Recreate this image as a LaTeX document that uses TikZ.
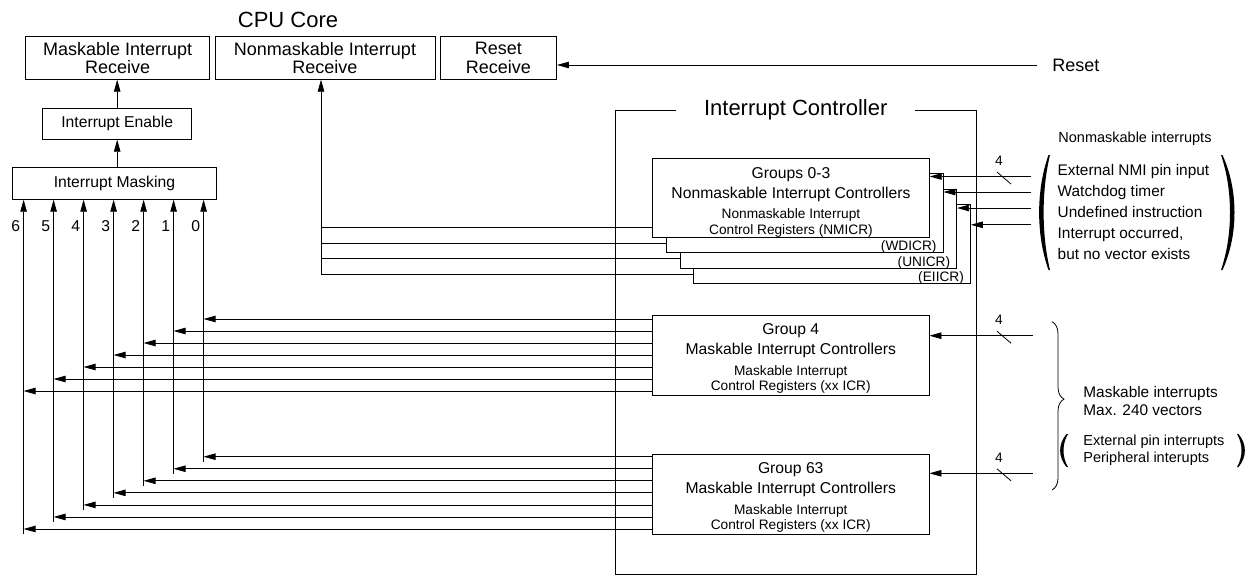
\documentclass[tikz,border=0pt]{standalone}
\usepackage{fontspec}
\setmainfont{Liberation Sans}
\usepackage{tikz}
\usetikzlibrary{positioning,arrows.meta,decorations.pathreplacing}

\newcommand{\ttlfont}{\fontsize{22}{26}\selectfont}
\newcommand{\rcvfont}{\fontsize{18}{18.5}\selectfont}
\newcommand{\midfont}{\fontsize{15.7}{20}\selectfont}
\newcommand{\lstfont}{\fontsize{15.4}{21.2}\selectfont}
\newcommand{\mskfont}{\fontsize{15.4}{18.5}\selectfont}
\newcommand{\regfont}{\fontsize{13.7}{16}\selectfont}
\newcommand{\pinfont}{\fontsize{14.5}{16.7}\selectfont}

\begin{document}
\begin{tikzpicture}[x=1pt,y=-1pt,line width=0.8pt,
	box/.style={draw,fill=white,inner sep=0pt,align=center},
	grp/.style={box,font=\midfont,minimum width=276.5pt,minimum height=80pt},
	nmbox/.style={box,font=\midfont,minimum width=276.6pt,minimum height=79pt},
	arr/.style={-{Triangle[length=12pt,width=6.5pt]}}]
	\useasboundingbox (0,0) rectangle (1259,576);

	% CPU core
	\node [font=\ttlfont] (cpu) at (288,20) {CPU Core};
	\node [box,font=\rcvfont,minimum width=183.8pt,minimum height=42.6pt] (mir) at (117.6,58) {Maskable Interrupt\\Receive};
	\node [box,font=\rcvfont,minimum width=220pt,minimum height=42.6pt] (nmir) at (325,58) {Nonmaskable Interrupt\\Receive};
	\node [box,font=\rcvfont,minimum width=116.5pt,minimum height=42.6pt] (rst) at (498.3,58) {Reset\\Receive};
	\node [box,font=\midfont,minimum width=149pt,minimum height=31pt] (enable) at (117.2,123.8) {Interrupt Enable};
	\node [box,font=\midfont,minimum width=203.3pt,minimum height=32pt] (mask) at (114.4,183.3) {Interrupt Masking};
	\draw [arr] (enable.north) -- (enable.north |- mir.south);
	\draw [arr] (mask.north -| enable.north) -- (enable.south);

	% interrupt controller
	\node [draw,minimum width=360.5pt,minimum height=464pt] (ic) at (795.75,342) {};
	\node [fill=white,font=\ttlfont,inner xsep=28pt,inner ysep=0pt] (ictitle) at (ic.north) {Interrupt Controller};

	\node [nmbox] (nm4) at (832.1,244.3) {};
	\node [nmbox] (nm3) at (818.4,228.8) {};
	\node [nmbox] (nm2) at (804.7,213.3) {};
	\node [nmbox] (nm1) at (791,197.8) {\rule{0pt}{20.5pt}Groups 0-3\\Nonmaskable Interrupt Controllers\\{\regfont Nonmaskable Interrupt}\\[-4pt]{\regfont Control Registers (NMICR)}};
	\node [font=\regfont,anchor=base east,inner sep=0pt] (wdicr) at ([xshift=-6.5pt,yshift=2.5pt]nm2.south east) {(WDICR)};
	\node [font=\regfont,anchor=base east,inner sep=0pt] (unicr) at ([xshift=-6.5pt,yshift=2.5pt]nm3.south east) {(UNICR)};
	\node [font=\regfont,anchor=base east,inner sep=0pt] (eiicr) at ([xshift=-6.5pt,yshift=2.5pt]nm4.south east) {(EIICR)};

	\node [grp] (g4) at (790.75,355.7) {\rule{0pt}{17pt}Group 4\\Maskable Interrupt Controllers\\[1pt]{\regfont Maskable Interrupt}\\[-5pt]{\regfont Control Registers (xx ICR)}};
	\node [grp] (g63) at (790.75,494) {\rule{0pt}{17pt}Group 63\\Maskable Interrupt Controllers\\[1pt]{\regfont Maskable Interrupt}\\[-5pt]{\regfont Control Registers (xx ICR)}};

	% nonmaskable requests to the core
	\foreach \n/\y in {1/227.7,2/243.3,3/258.3,4/274}{
		\coordinate (nmo\n) at (321,\y);
		\draw (nm\n.west |- nmo\n) -- (nmo\n);
	}
	\draw [arr] (nmo4) -- (nmo4 |- nmir.south);

	% nonmaskable sources
	\foreach \n/\y in {1/176.5,2/192,3/208,4/224.8}{
		\coordinate (nmi\n) at (1031,\y);
		\draw [arr] (nmi\n) -- (nmi\n -| nm\n.east);
	}

	% levels 0-6
	\foreach \k in {0,...,6}{
		\pgfmathsetmacro{\xk}{203.6-30*\k}
		\pgfmathsetmacro{\ya}{319+12*\k}
		\pgfmathsetmacro{\yb}{456.7+12.05*\k}
		\coordinate (bot\k) at (\xk,\yb+5);
		\coordinate (ha\k) at (\xk,\ya);
		\coordinate (hb\k) at (\xk,\yb);
		\draw [arr] (bot\k) -- (bot\k |- mask.south);
		\node [font=\midfont,anchor=east,inner sep=0pt] (lvl\k) at (\xk-3,226) {\k};
		\draw [arr] (g4.west |- ha\k) -- (ha\k);
		\draw [arr] (g63.west |- hb\k) -- (hb\k);
	}

	% maskable sources
	\coordinate (min4) at (1032.8,335.7);
	\coordinate (min63) at (1032.8,473.3);
	\draw [arr] (min4) -- (min4 -| g4.east);
	\draw [arr] (min63) -- (min63 -| g63.east);
	\foreach \y/\m in {176.5/a,335.7/b,473.3/c}{
		\draw (997,\y-4.5) -- (1011,\y+7.5);
		\node [font=\regfont,inner sep=0pt] (four\m) at (999,\y-16) {4};
	}

	% reset
	\coordinate (rstin) at (1037,65);
	\draw [arr] (rstin) -- (rstin -| rst.east);
	\node [font=\rcvfont,inner sep=0pt,right=15pt of rstin] (rstlbl) {Reset};

	\node [font=\pinfont,anchor=west,inner sep=0pt] (nmhead) at (1058,139) {Nonmaskable interrupts};
	\node [font=\lstfont,align=left,anchor=west,inner sep=0pt] (nmlist) at (1057.3,212) {External NMI pin input\\Watchdog timer\\Undefined instruction\\Interrupt occurred,\\but no vector exists};
	\fill (1048.5,155) .. controls (1036,190) and (1036,235) .. (1048.5,270) -- (1050,270) .. controls (1041.5,235) and (1041.5,190) .. (1050,155) -- cycle;
	\fill (1222.5,155) .. controls (1238.5,190) and (1238.5,235) .. (1222.5,270) -- (1221,270) .. controls (1233,235) and (1233,190) .. (1221,155) -- cycle;

	\draw [decorate,decoration={brace,amplitude=12pt,aspect=0.46}] (1052,321.7) -- (1052,490);
	\node [font=\mskfont,align=left,anchor=west,inner sep=0pt] (mskhead) at (1083,401) {Maskable interrupts\\Max. 240 vectors};
	\node [font=\pinfont,align=left,anchor=west,inner sep=0pt] (pinlist) at (1083,450) {External pin interrupts\\Peripheral interupts};
	\fill (1066.5,434) .. controls (1058,444) and (1058,457) .. (1066.5,467) -- (1068,467) .. controls (1062,457) and (1062,444) .. (1068,434) -- cycle;
	\fill (1238.5,434) .. controls (1247,444) and (1247,457) .. (1238.5,467) -- (1237,467) .. controls (1243,457) and (1243,444) .. (1237,434) -- cycle;
\end{tikzpicture}
\end{document}
